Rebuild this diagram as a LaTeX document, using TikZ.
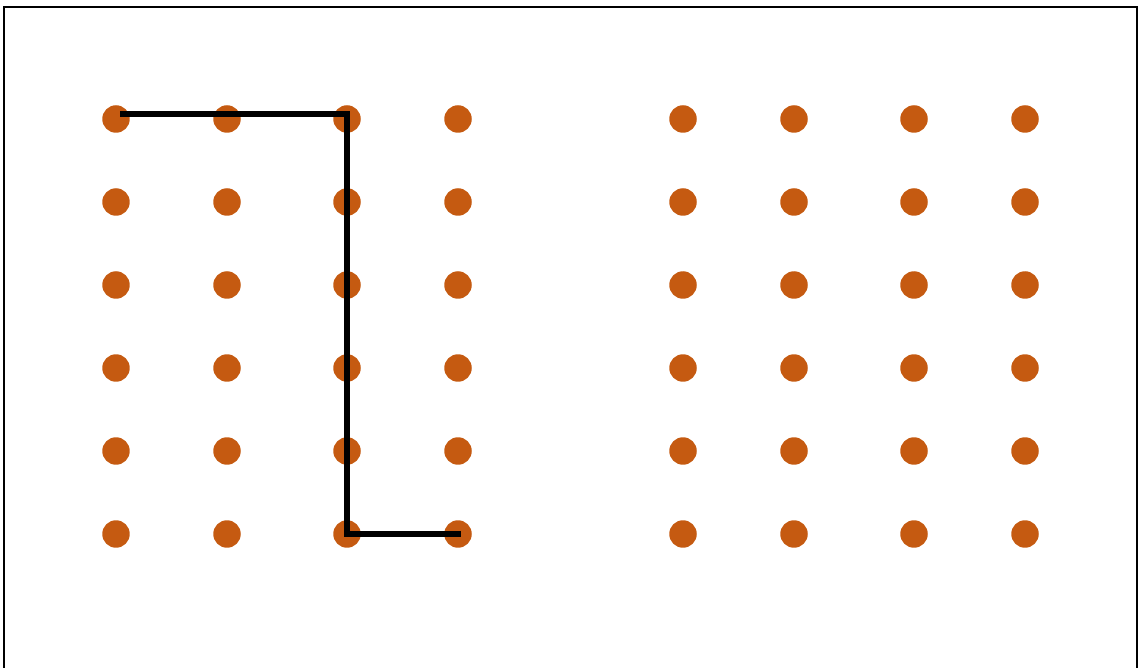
\documentclass[tikz,border=0pt]{standalone}
\definecolor{dotorange}{RGB}{197,90,17}
\begin{document}
\begin{tikzpicture}[x=0.02cm,y=-0.02cm,
  dot/.style={circle,fill=dotorange,inner sep=0pt,minimum size=0.55cm},
  route/.style={line width=3.4pt}]
\useasboundingbox (0,0) rectangle (1139,668);
\clip (0,0) rectangle (1139,668);
\draw[line width=1.3pt] (4,7) rectangle (1137,690);
% two grids of dots
\foreach \x [count=\i] in {116,227,347,458,683,794,914,1025}
  \foreach \y [count=\j] in {119,202,285,368,451,534}
    \node[dot] (d-\i-\j) at (\x,\y) {};
% the path
\coordinate (start) at (120,114);
\coordinate (corner) at (347,114);
\coordinate (stop) at (461,534);
\draw[route] (start) -- (corner) -- (d-3-6.center) -- (stop);
\end{tikzpicture}
\end{document}
